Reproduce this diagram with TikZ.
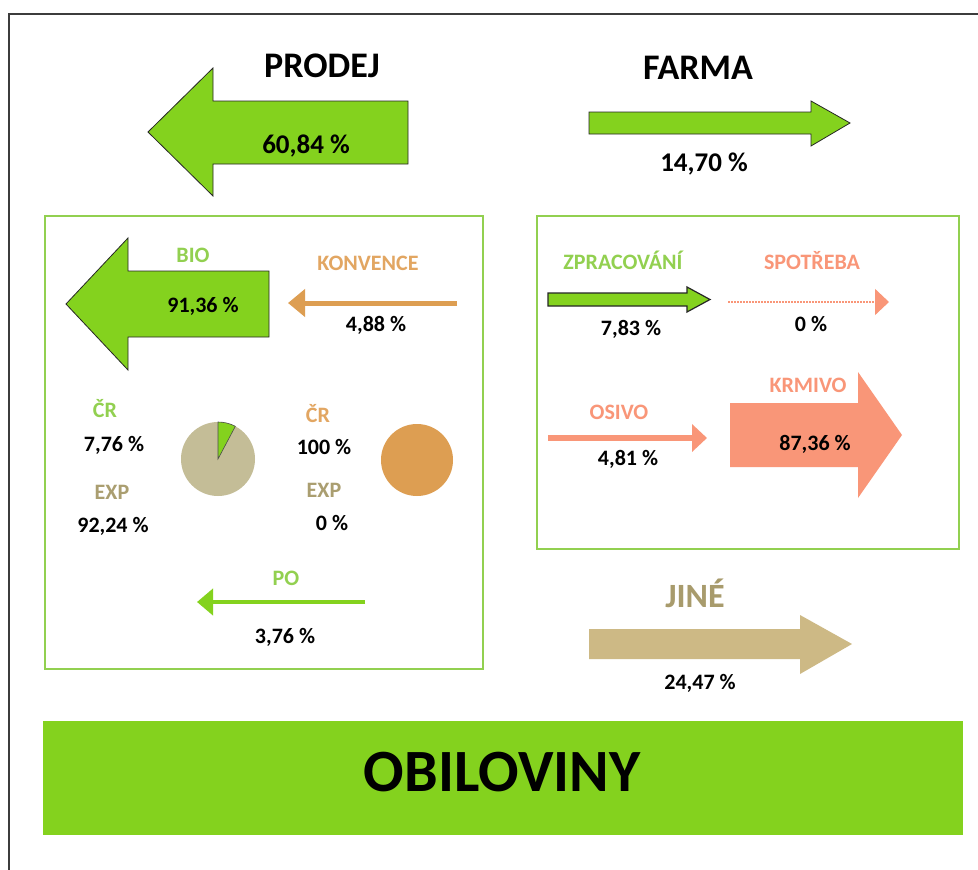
\documentclass[tikz,border=0pt]{standalone}
\usepackage{fontspec}
\setmainfont{Carlito}
\usetikzlibrary{arrows.meta}
\definecolor{grfill}{RGB}{132,210,30}
\definecolor{grline}{RGB}{146,208,80}
\definecolor{grtext}{RGB}{146,208,80}
\definecolor{orng}{RGB}{221,158,82}
\definecolor{orngtext}{RGB}{226,166,98}
\definecolor{khaki}{RGB}{196,189,151}
\definecolor{exptext}{RGB}{170,158,112}
\definecolor{salmon}{RGB}{249,150,120}
\definecolor{tanfill}{RGB}{205,185,133}
\definecolor{jinetext}{RGB}{168,155,108}
\definecolor{framec}{RGB}{60,60,60}
\begin{document}
\begin{tikzpicture}[x=1pt,y=-1pt,
  lbl/.style={anchor=base, inner sep=0pt, font=\fontsize{22}{26}\selectfont\bfseries},
  pct/.style={lbl, text=black},
  midpct/.style={anchor=base, inner sep=0pt, text=black, font=\fontsize{27}{32}\selectfont\bfseries},
  bigtitle/.style={anchor=base, inner sep=0pt, text=black, font=\fontsize{36}{42}\selectfont\bfseries},
  fatarrow/.style={draw=black!85, line width=0.8pt, line join=miter},
  groupbox/.style={draw=grline, line width=1.5pt},
]
\useasboundingbox (0,0) rectangle (978,870);
\fill[white] (0,0) rectangle (978,870);
% outer frame
\draw[framec, line width=1.5pt] (9,872) -- (9,14) -- (980,14);

% top arrows
\draw[fatarrow, fill=grfill] (148,132) -- (213,68) -- (213,101) -- (408,101) -- (408,164) -- (213,164) -- (213,196) -- cycle;
\draw[fatarrow, fill=grfill] (589,112) -- (811,112) -- (811,101) -- (850,123) -- (811,146) -- (811,134) -- (589,134) -- cycle;
\node[bigtitle] (prodej) at (322,77) {PRODEJ};
\node[bigtitle] (farma) at (698,79) {FARMA};
\node[midpct] (p6084) at (306,153) {60,84 \%};
\node[midpct] (p1470) at (704,171) {14,70 \%};

% group boxes
\draw[groupbox] (45,216) rectangle (483,669);
\draw[groupbox] (537,216) rectangle (959,549);

% left box content
\draw[fatarrow, fill=grfill] (66,304) -- (128,238) -- (128,271) -- (269,271) -- (269,337) -- (128,337) -- (128,370) -- cycle;
\node[lbl, text=grtext] (bio) at (193,262) {BIO};
\node[pct] (p9136) at (203,312) {91,36 \%};
\node[lbl, text=orngtext] (konv) at (368,270) {KONVENCE};
\coordinate (konS) at (457,303);
\coordinate (konE) at (288,303);
\draw[orng, line width=5pt, -{Triangle[length=17pt,width=27pt]}] (konS) -- (konE);
\node[pct] (p488) at (376,331) {4,88 \%};

\node[lbl, text=grtext] (crL) at (105,417) {ČR};
\node[pct] (p776) at (114,451) {7,76 \%};
\node[lbl, text=exptext] (expL) at (112,499) {EXP};
\node[pct] (p9224) at (113,532) {92,24 \%};
\node[circle, fill=khaki, minimum size=74pt, inner sep=0pt] (pieL) at (218,459) {};
\filldraw[fill=grfill, draw=black!70, line width=0.6pt] (pieL.center) -- ++(90:37pt) arc[start angle=90, end angle=62.06, radius=37pt] -- cycle;

\node[lbl, text=orngtext] (crR) at (318,422) {ČR};
\node[pct] (p100) at (324,454) {100 \%};
\node[lbl, text=exptext] (expR) at (324,497) {EXP};
\node[pct] (p0L) at (332,530) {0 \%};
\node[circle, fill=orng, minimum size=72pt, inner sep=0pt] (pieR) at (417,460) {};

\node[lbl, text=grtext] (po) at (286,585) {PO};
\coordinate (poS) at (365,602);
\coordinate (poE) at (197,602);
\draw[grfill, line width=4.5pt, -{Triangle[length=16pt,width=26pt]}] (poS) -- (poE);
\node[pct] (p376) at (285,643) {3,76 \%};

% right box content
\node[lbl, text=grtext] (zprac) at (623,269) {ZPRACOVÁNÍ};
\draw[fatarrow, fill=grfill, line width=1.2pt] (548,293) -- (687,293) -- (687,287) -- (710,299.5) -- (687,312) -- (687,306) -- (548,306) -- cycle;
\node[pct] (p783) at (631,335) {7,83 \%};

\node[lbl, text=salmon] (spotr) at (812,269) {SPOTŘEBA};
\coordinate (spS) at (728,302);
\coordinate (spE) at (889,302);
\draw[salmon, line width=1.5pt, dash pattern=on 1.5pt off 1.5pt, -{Triangle[length=14pt,width=26pt]}] (spS) -- (spE);
\node[pct] (p0R) at (811,331) {0 \%};

\node[lbl, text=salmon] (osivo) at (619,419) {OSIVO};
\coordinate (osS) at (548,438);
\coordinate (osE) at (707,438);
\draw[salmon, line width=6pt, -{Triangle[length=15pt,width=27pt]}] (osS) -- (osE);
\node[pct] (p481) at (628,465) {4,81 \%};

\fill[salmon] (730,403) -- (858,403) -- (858,372) -- (902,435) -- (858,498) -- (858,467) -- (730,467) -- cycle;
\node[lbl, text=salmon] (krmivo) at (808,392) {KRMIVO};
\node[pct] (p8736) at (815,450) {87,36 \%};

% JINE
\node[anchor=base, inner sep=0pt, text=jinetext, font=\fontsize{34}{40}\selectfont\bfseries] (jine) at (695,607) {JINÉ};
\fill[tanfill] (589,629) -- (800,629) -- (800,615) -- (852,644) -- (800,674) -- (800,659) -- (589,659) -- cycle;
\node[pct] (p2447) at (700,689) {24,47 \%};

% bottom bar
\fill[grfill] (43,721) rectangle (963,835);
\node[anchor=base, inner sep=0pt, text=black, font=\fontsize{60}{70}\selectfont\bfseries] (obil) at (502,791) {OBILOVINY};
\end{tikzpicture}
\end{document}
